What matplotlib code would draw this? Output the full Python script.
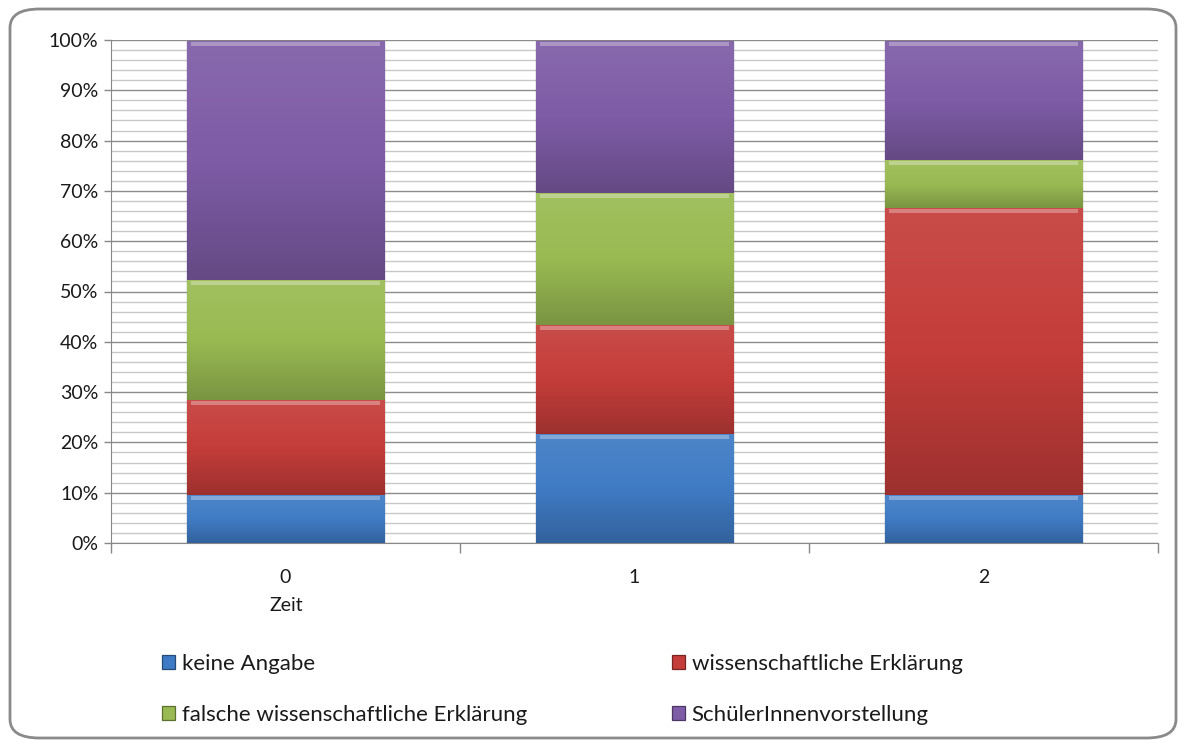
import matplotlib
matplotlib.use("Agg")
import matplotlib.pyplot as plt
import numpy as np
from matplotlib.patches import FancyBboxPatch
from matplotlib.colors import LinearSegmentedColormap, to_rgb

plt.rcParams['font.family'] = ['Lato', 'DejaVu Sans']

categories = ["0", "1", "2"]
series_names = ["keine Angabe", "wissenschaftliche Erklärung",
                "falsche wissenschaftliche Erklärung", "SchülerInnenvorstellung"]
keine_angabe = [9.5, 21.7, 9.5]
wiss_erklaerung = [19.0, 21.7, 57.1]
falsche_erklaerung = [23.8, 26.1, 9.5]
schueler_vorst = [47.6, 30.4, 23.8]
series_values = [keine_angabe, wiss_erklaerung, falsche_erklaerung, schueler_vorst]
colors = ["#3F7BC4", "#C43D3A", "#99BA52", "#7E5CA6"]

W, H = 1186, 747
fig = plt.figure(figsize=(W / 100, H / 100), dpi=100)
ax = fig.add_axes([111 / W, 1 - 543 / H, 1047 / W, 503 / H])

x = np.arange(len(categories))
bw = 0.567
bottom = np.zeros(len(categories))
handles = []


def shade(c, f):
    r, g, b = to_rgb(c)
    if f >= 0:
        return (r + (1 - r) * f, g + (1 - g) * f, b + (1 - b) * f)
    return (r * (1 + f), g * (1 + f), b * (1 + f))


for name, vals, col in zip(series_names, series_values, colors):
    vals = np.array(vals)
    bars = ax.bar(x, vals, bw, bottom=bottom, color=col, edgecolor=shade(col, -0.4),
                  linewidth=0.9, zorder=3, label=name)
    cmap = LinearSegmentedColormap.from_list("g", [shade(col, -0.2), col, shade(col, 0.08)])
    for rect in bars:
        x0, y0 = rect.get_x(), rect.get_y()
        w, h = rect.get_width(), rect.get_height()
        grad = np.linspace(0, 1, 100).reshape(-1, 1)
        im = ax.imshow(grad, extent=(x0, x0 + w, y0, y0 + h), origin='lower',
                       cmap=cmap, aspect='auto', zorder=3.5)
        im.set_clip_path(rect)
        hb = min(0.8, h * 0.3)
        ax.bar(x0 + w / 2, hb, w * 0.96, bottom=y0 + h - hb - 0.2,
               color=shade(col, 0.35), linewidth=0, zorder=3.6)
    handles.append(bars)
    bottom = bottom + vals

ax.set_xlim(-0.5, 2.5)
ax.set_ylim(0, 100)
ax.set_yticks(np.arange(0, 101, 10))
ax.set_yticklabels([f"{v}%" for v in range(0, 101, 10)], fontsize=14, color="#1a1a1a")
ax.set_yticks(np.arange(0, 101, 2), minor=True)
ax.grid(axis='y', which='minor', color='#C8C8C8', linewidth=1.0, zorder=0)
ax.grid(axis='y', which='major', color='#8C8C8C', linewidth=1.0, zorder=0)
ax.set_xticks(x)
ax.set_xticklabels(categories, fontsize=14, color="#1a1a1a")
ax.tick_params(axis='x', which='major', length=0, pad=19)
ax.set_xticks([-0.5, 0.5, 1.5, 2.5], minor=True)
ax.tick_params(axis='x', which='minor', length=7, color='#888888', width=1)
ax.tick_params(axis='y', which='major', length=5, color='#888888', width=1, pad=4)
ax.tick_params(axis='y', which='minor', length=0)
for s in ['top', 'right']:
    ax.spines[s].set_visible(False)
ax.spines['left'].set_color('#888888')
ax.spines['bottom'].set_color('#888888')
ax.set_xlabel("Zeit", fontsize=14, color="#1a1a1a")
ax.xaxis.set_label_coords((286 - 111) / 1047, -0.108)
ax.set_axisbelow(True)

order = [0, 2, 1, 3]
leg = fig.legend([handles[i] for i in order], [series_names[i] for i in order],
                 ncol=2, loc='upper left',
                 bbox_to_anchor=(142 / W, 1 - 634 / H), frameon=False,
                 fontsize=16, handlelength=0.6, handleheight=0.6,
                 handletextpad=0.3, columnspacing=6.5, labelspacing=1.38)
for t in leg.get_texts():
    t.set_color("#1a1a1a")

frame = FancyBboxPatch((10 / W, 9 / H), 1166 / W, 729 / H,
                       boxstyle="round,pad=0,rounding_size=0.025",
                       transform=fig.transFigure, facecolor='none',
                       edgecolor='#8A8A8A', linewidth=2, zorder=10)
fig.patches.append(frame)

fig.savefig("out.png", dpi=100)
